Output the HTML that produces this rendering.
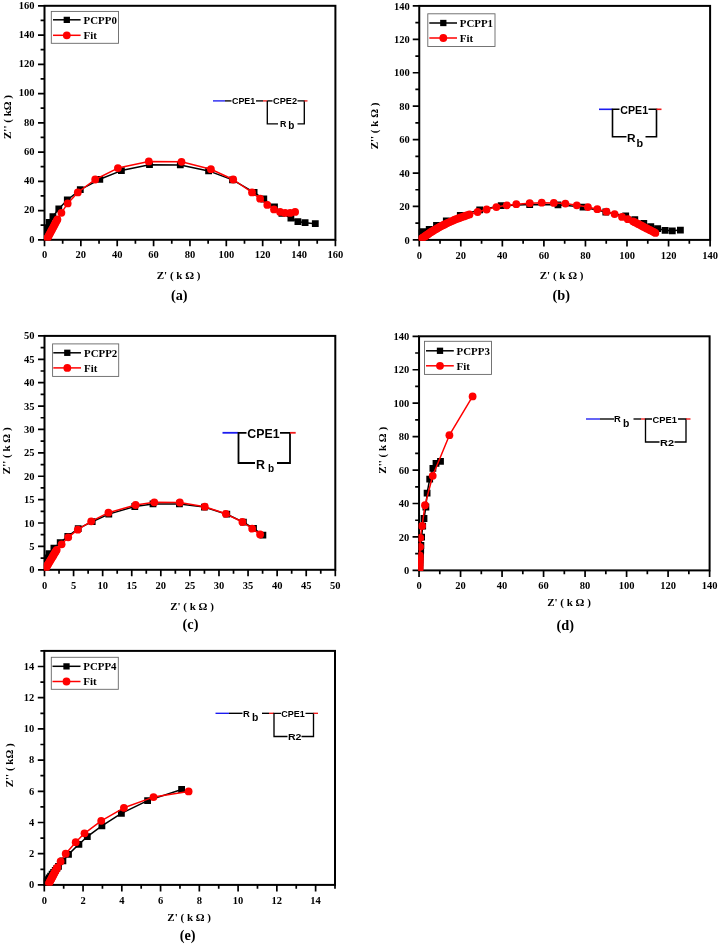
<!DOCTYPE html>
<html lang="en"><head><meta charset="utf-8"><title>Nyquist plots</title>
<style>html,body{margin:0;padding:0;background:#fff}svg{display:block}</style></head>
<body>
<svg width="719" height="945" viewBox="0 0 719 945">
<style>text{font-family:"Liberation Serif", "DejaVu Serif", serif;font-weight:bold;fill:#000}.t{font-size:10.5px}.l{font-size:10.9px}.a{font-size:11px}.c{font-size:14.3px}.s{font-family:"Liberation Sans", "DejaVu Sans", sans-serif}</style>
<rect width="719" height="945" fill="#fff"/>
<g>
<text x="44.5" y="258.4" text-anchor="middle" class="t">0</text>
<text x="80.86" y="258.4" text-anchor="middle" class="t">20</text>
<text x="117.22" y="258.4" text-anchor="middle" class="t">40</text>
<text x="153.59" y="258.4" text-anchor="middle" class="t">60</text>
<text x="189.95" y="258.4" text-anchor="middle" class="t">80</text>
<text x="226.31" y="258.4" text-anchor="middle" class="t">100</text>
<text x="262.67" y="258.4" text-anchor="middle" class="t">120</text>
<text x="299.04" y="258.4" text-anchor="middle" class="t">140</text>
<text x="335.4" y="258.4" text-anchor="middle" class="t">160</text>
<text x="34.5" y="242.5" text-anchor="end" class="t">0</text>
<text x="34.5" y="213.25" text-anchor="end" class="t">20</text>
<text x="34.5" y="184" text-anchor="end" class="t">40</text>
<text x="34.5" y="154.75" text-anchor="end" class="t">60</text>
<text x="34.5" y="125.5" text-anchor="end" class="t">80</text>
<text x="34.5" y="96.25" text-anchor="end" class="t">100</text>
<text x="34.5" y="67" text-anchor="end" class="t">120</text>
<text x="34.5" y="37.75" text-anchor="end" class="t">140</text>
<text x="34.5" y="8.5" text-anchor="end" class="t">160</text>
<path d="M44.5 239.8v6.5M62.68 239.8v3.9M80.86 239.8v6.5M99.04 239.8v3.9M117.22 239.8v6.5M135.41 239.8v3.9M153.59 239.8v6.5M171.77 239.8v3.9M189.95 239.8v6.5M208.13 239.8v3.9M226.31 239.8v6.5M244.49 239.8v3.9M262.67 239.8v6.5M280.86 239.8v3.9M299.04 239.8v6.5M317.22 239.8v3.9M335.4 239.8v6.5M44.5 239.8h-6.5M44.5 225.18h-3.9M44.5 210.55h-6.5M44.5 195.93h-3.9M44.5 181.3h-6.5M44.5 166.68h-3.9M44.5 152.05h-6.5M44.5 137.43h-3.9M44.5 122.8h-6.5M44.5 108.18h-3.9M44.5 93.55h-6.5M44.5 78.93h-3.9M44.5 64.3h-6.5M44.5 49.68h-3.9M44.5 35.05h-6.5M44.5 20.43h-3.9M44.5 5.8h-6.5" stroke="#000" stroke-width="1.7" fill="none"/>
<rect x="44.5" y="5.8" width="290.9" height="234" fill="none" stroke="#000" stroke-width="2"/>
<clipPath id="ca"><rect x="43.9" y="5.2" width="292.1" height="235.2"/></clipPath><g clip-path="url(#ca)">
<polyline fill="none" stroke="#000" stroke-width="1.5" stroke-linejoin="round" points="44.8,231.5 45.3,229.5 46.5,227.7 49.2,222.5 52.9,216.6 58.8,208.8 67.3,200 80.3,189.6 99.8,179.3 121.4,170.6 149.5,164.7 180.3,164.9 208.6,170.9 232.5,179.9 254.1,192.4 263.8,199 274.5,207 281.9,213.3 290.9,218.2 297.9,221.6 305.1,222.7 315.3,223.7"/>
<path fill="#000" d="M41.4 228.1h6.8v6.8h-6.8zM41.9 226.1h6.8v6.8h-6.8zM43.1 224.3h6.8v6.8h-6.8zM45.8 219.1h6.8v6.8h-6.8zM49.5 213.2h6.8v6.8h-6.8zM55.4 205.4h6.8v6.8h-6.8zM63.9 196.6h6.8v6.8h-6.8zM76.9 186.2h6.8v6.8h-6.8zM96.4 175.9h6.8v6.8h-6.8zM118 167.2h6.8v6.8h-6.8zM146.1 161.3h6.8v6.8h-6.8zM176.9 161.5h6.8v6.8h-6.8zM205.2 167.5h6.8v6.8h-6.8zM229.1 176.5h6.8v6.8h-6.8zM250.7 189h6.8v6.8h-6.8zM260.4 195.6h6.8v6.8h-6.8zM271.1 203.6h6.8v6.8h-6.8zM278.5 209.9h6.8v6.8h-6.8zM287.5 214.8h6.8v6.8h-6.8zM294.5 218.2h6.8v6.8h-6.8zM301.7 219.3h6.8v6.8h-6.8zM311.9 220.3h6.8v6.8h-6.8z"/>
<polyline fill="none" stroke="#f00" stroke-width="1.5" stroke-linejoin="round" points="47.4,238.2 48.05,236.98 48.79,235.58 49.58,234.11 50.39,232.59 51.22,231.02 52.07,229.43 52.93,227.81 53.8,226.16 54.69,224.5 55.58,222.82 56.49,221.12 57.4,219.4 61.4,212.8 67.7,203.4 77.8,192.4 95.2,179.5 117.9,168.1 148.8,161.4 181.5,161.8 210.9,169.2 233.2,179.5 252,192.4 260.1,198.7 267.3,204.9 274,209.4 280.1,211.9 285.1,212.9 290.2,212.9 295.1,211.9"/>
<circle cx="47.4" cy="238.2" r="3.9" fill="#f00"/>
<circle cx="48.05" cy="236.98" r="3.9" fill="#f00"/>
<circle cx="48.79" cy="235.58" r="3.9" fill="#f00"/>
<circle cx="49.58" cy="234.11" r="3.9" fill="#f00"/>
<circle cx="50.39" cy="232.59" r="3.9" fill="#f00"/>
<circle cx="51.22" cy="231.02" r="3.9" fill="#f00"/>
<circle cx="52.07" cy="229.43" r="3.9" fill="#f00"/>
<circle cx="52.93" cy="227.81" r="3.9" fill="#f00"/>
<circle cx="53.8" cy="226.16" r="3.9" fill="#f00"/>
<circle cx="54.69" cy="224.5" r="3.9" fill="#f00"/>
<circle cx="55.58" cy="222.82" r="3.9" fill="#f00"/>
<circle cx="56.49" cy="221.12" r="3.9" fill="#f00"/>
<circle cx="57.4" cy="219.4" r="3.9" fill="#f00"/>
<circle cx="61.4" cy="212.8" r="3.9" fill="#f00"/>
<circle cx="67.7" cy="203.4" r="3.9" fill="#f00"/>
<circle cx="77.8" cy="192.4" r="3.9" fill="#f00"/>
<circle cx="95.2" cy="179.5" r="3.9" fill="#f00"/>
<circle cx="117.9" cy="168.1" r="3.9" fill="#f00"/>
<circle cx="148.8" cy="161.4" r="3.9" fill="#f00"/>
<circle cx="181.5" cy="161.8" r="3.9" fill="#f00"/>
<circle cx="210.9" cy="169.2" r="3.9" fill="#f00"/>
<circle cx="233.2" cy="179.5" r="3.9" fill="#f00"/>
<circle cx="252" cy="192.4" r="3.9" fill="#f00"/>
<circle cx="260.1" cy="198.7" r="3.9" fill="#f00"/>
<circle cx="267.3" cy="204.9" r="3.9" fill="#f00"/>
<circle cx="274" cy="209.4" r="3.9" fill="#f00"/>
<circle cx="280.1" cy="211.9" r="3.9" fill="#f00"/>
<circle cx="285.1" cy="212.9" r="3.9" fill="#f00"/>
<circle cx="290.2" cy="212.9" r="3.9" fill="#f00"/>
<circle cx="295.1" cy="211.9" r="3.9" fill="#f00"/>
</g>
<rect x="51.3" y="11.4" width="67.2" height="31.9" fill="#fff" stroke="#666" stroke-width="0.9"/>
<path d="M53 19.8H80.6" stroke="#000" stroke-width="1.5"/>
<path fill="#000" d="M63.65 16.65h6.3v6.3h-6.3z"/>
<path d="M53 35.3H80.6" stroke="#f00" stroke-width="1.5"/>
<circle cx="66.8" cy="35.3" r="3.9" fill="#f00"/>
<text x="83.6" y="23.6" class="l">PCPP0</text>
<text x="83.6" y="39.1" class="l">Fit</text>
<text x="178.6" y="279.4" text-anchor="middle" class="a" xml:space="preserve">Z' ( k Ω )</text>
<text transform="translate(10.8 117) rotate(-90)" text-anchor="middle" class="a" xml:space="preserve">Z'' ( kΩ )</text>
<text x="179.3" y="299.8" text-anchor="middle" class="c">(a)</text>
</g>
<g>
<text x="419.25" y="258.8" text-anchor="middle" class="t">0</text>
<text x="460.8" y="258.8" text-anchor="middle" class="t">20</text>
<text x="502.35" y="258.8" text-anchor="middle" class="t">40</text>
<text x="543.9" y="258.8" text-anchor="middle" class="t">60</text>
<text x="585.45" y="258.8" text-anchor="middle" class="t">80</text>
<text x="627" y="258.8" text-anchor="middle" class="t">100</text>
<text x="668.55" y="258.8" text-anchor="middle" class="t">120</text>
<text x="710.1" y="258.8" text-anchor="middle" class="t">140</text>
<text x="409.75" y="243.6" text-anchor="end" class="t">0</text>
<text x="409.75" y="210.17" text-anchor="end" class="t">20</text>
<text x="409.75" y="176.74" text-anchor="end" class="t">40</text>
<text x="409.75" y="143.31" text-anchor="end" class="t">60</text>
<text x="409.75" y="109.89" text-anchor="end" class="t">80</text>
<text x="409.75" y="76.46" text-anchor="end" class="t">100</text>
<text x="409.75" y="43.03" text-anchor="end" class="t">120</text>
<text x="409.75" y="9.6" text-anchor="end" class="t">140</text>
<path d="M419.25 239.9v6.5M440.02 239.9v3.9M460.8 239.9v6.5M481.57 239.9v3.9M502.35 239.9v6.5M523.12 239.9v3.9M543.9 239.9v6.5M564.67 239.9v3.9M585.45 239.9v6.5M606.23 239.9v3.9M627 239.9v6.5M647.77 239.9v3.9M668.55 239.9v6.5M689.33 239.9v3.9M710.1 239.9v6.5M419.25 239.9h-6.5M419.25 223.19h-3.9M419.25 206.47h-6.5M419.25 189.76h-3.9M419.25 173.04h-6.5M419.25 156.33h-3.9M419.25 139.61h-6.5M419.25 122.9h-3.9M419.25 106.19h-6.5M419.25 89.47h-3.9M419.25 72.76h-6.5M419.25 56.04h-3.9M419.25 39.33h-6.5M419.25 22.61h-3.9M419.25 5.9h-6.5" stroke="#000" stroke-width="1.7" fill="none"/>
<rect x="419.25" y="5.9" width="290.85" height="234" fill="none" stroke="#000" stroke-width="2"/>
<clipPath id="cb"><rect x="418.65" y="5.3" width="292.05" height="235.2"/></clipPath><g clip-path="url(#cb)">
<polyline fill="none" stroke="#000" stroke-width="1.5" stroke-linejoin="round" points="419.6,234 420.6,233 423.3,231.7 429.2,229.3 436.5,225.5 446.3,220.8 460.3,215.3 479.7,209.9 501.2,205.7 529.7,204.6 558,204.8 583,207.1 605.8,212 625.7,215.9 634.8,219.6 643.8,223.4 650.8,226.6 657.7,228.7 665.1,230.3 672.3,230.8 680.4,230.1"/>
<path fill="#000" d="M416.2 230.6h6.8v6.8h-6.8zM417.2 229.6h6.8v6.8h-6.8zM419.9 228.3h6.8v6.8h-6.8zM425.8 225.9h6.8v6.8h-6.8zM433.1 222.1h6.8v6.8h-6.8zM442.9 217.4h6.8v6.8h-6.8zM456.9 211.9h6.8v6.8h-6.8zM476.3 206.5h6.8v6.8h-6.8zM497.8 202.3h6.8v6.8h-6.8zM526.3 201.2h6.8v6.8h-6.8zM554.6 201.4h6.8v6.8h-6.8zM579.6 203.7h6.8v6.8h-6.8zM602.4 208.6h6.8v6.8h-6.8zM622.3 212.5h6.8v6.8h-6.8zM631.4 216.2h6.8v6.8h-6.8zM640.4 220h6.8v6.8h-6.8zM647.4 223.2h6.8v6.8h-6.8zM654.3 225.3h6.8v6.8h-6.8zM661.7 226.9h6.8v6.8h-6.8zM668.9 227.4h6.8v6.8h-6.8zM677 226.7h6.8v6.8h-6.8z"/>
<polyline fill="none" stroke="#f00" stroke-width="1.5" stroke-linejoin="round" points="421.6,238.6 422.16,238.21 422.93,237.67 423.8,237.05 424.76,236.38 425.77,235.67 426.84,234.92 427.95,234.14 429.11,233.33 430.3,232.49 431.55,231.67 432.87,230.9 434.23,230.1 435.61,229.29 437.02,228.46 438.45,227.61 439.91,226.76 441.44,225.98 443,225.2 444.58,224.41 446.18,223.61 447.8,222.8 449.48,222.05 451.18,221.29 452.89,220.53 454.63,219.77 456.41,219.08 458.23,218.41 460.06,217.73 461.9,217.05 463.78,216.39 465.67,215.73 467.58,215.07 469.5,214.4 477.6,212 486.6,209.5 496.4,207.1 506.8,205.3 516.3,204.2 529.7,203.2 541.7,202.7 553.8,202.9 565.4,203.6 576.8,205.3 587.9,207.1 597.3,209.2 606.5,211.7 614.6,214.1 622,216.9 627.8,219.2 633,221.3 634.72,222.19 636.45,223.08 638.17,223.98 639.89,224.87 641.62,225.76 643.34,226.65 645.06,227.55 646.78,228.44 648.51,229.33 650.23,230.22 651.95,231.12 653.68,232.01 655.4,232.9"/>
<circle cx="421.6" cy="238.6" r="3.9" fill="#f00"/>
<circle cx="422.16" cy="238.21" r="3.9" fill="#f00"/>
<circle cx="422.93" cy="237.67" r="3.9" fill="#f00"/>
<circle cx="423.8" cy="237.05" r="3.9" fill="#f00"/>
<circle cx="424.76" cy="236.38" r="3.9" fill="#f00"/>
<circle cx="425.77" cy="235.67" r="3.9" fill="#f00"/>
<circle cx="426.84" cy="234.92" r="3.9" fill="#f00"/>
<circle cx="427.95" cy="234.14" r="3.9" fill="#f00"/>
<circle cx="429.11" cy="233.33" r="3.9" fill="#f00"/>
<circle cx="430.3" cy="232.49" r="3.9" fill="#f00"/>
<circle cx="431.55" cy="231.67" r="3.9" fill="#f00"/>
<circle cx="432.87" cy="230.9" r="3.9" fill="#f00"/>
<circle cx="434.23" cy="230.1" r="3.9" fill="#f00"/>
<circle cx="435.61" cy="229.29" r="3.9" fill="#f00"/>
<circle cx="437.02" cy="228.46" r="3.9" fill="#f00"/>
<circle cx="438.45" cy="227.61" r="3.9" fill="#f00"/>
<circle cx="439.91" cy="226.76" r="3.9" fill="#f00"/>
<circle cx="441.44" cy="225.98" r="3.9" fill="#f00"/>
<circle cx="443" cy="225.2" r="3.9" fill="#f00"/>
<circle cx="444.58" cy="224.41" r="3.9" fill="#f00"/>
<circle cx="446.18" cy="223.61" r="3.9" fill="#f00"/>
<circle cx="447.8" cy="222.8" r="3.9" fill="#f00"/>
<circle cx="449.48" cy="222.05" r="3.9" fill="#f00"/>
<circle cx="451.18" cy="221.29" r="3.9" fill="#f00"/>
<circle cx="452.89" cy="220.53" r="3.9" fill="#f00"/>
<circle cx="454.63" cy="219.77" r="3.9" fill="#f00"/>
<circle cx="456.41" cy="219.08" r="3.9" fill="#f00"/>
<circle cx="458.23" cy="218.41" r="3.9" fill="#f00"/>
<circle cx="460.06" cy="217.73" r="3.9" fill="#f00"/>
<circle cx="461.9" cy="217.05" r="3.9" fill="#f00"/>
<circle cx="463.78" cy="216.39" r="3.9" fill="#f00"/>
<circle cx="465.67" cy="215.73" r="3.9" fill="#f00"/>
<circle cx="467.58" cy="215.07" r="3.9" fill="#f00"/>
<circle cx="469.5" cy="214.4" r="3.9" fill="#f00"/>
<circle cx="477.6" cy="212" r="3.9" fill="#f00"/>
<circle cx="486.6" cy="209.5" r="3.9" fill="#f00"/>
<circle cx="496.4" cy="207.1" r="3.9" fill="#f00"/>
<circle cx="506.8" cy="205.3" r="3.9" fill="#f00"/>
<circle cx="516.3" cy="204.2" r="3.9" fill="#f00"/>
<circle cx="529.7" cy="203.2" r="3.9" fill="#f00"/>
<circle cx="541.7" cy="202.7" r="3.9" fill="#f00"/>
<circle cx="553.8" cy="202.9" r="3.9" fill="#f00"/>
<circle cx="565.4" cy="203.6" r="3.9" fill="#f00"/>
<circle cx="576.8" cy="205.3" r="3.9" fill="#f00"/>
<circle cx="587.9" cy="207.1" r="3.9" fill="#f00"/>
<circle cx="597.3" cy="209.2" r="3.9" fill="#f00"/>
<circle cx="606.5" cy="211.7" r="3.9" fill="#f00"/>
<circle cx="614.6" cy="214.1" r="3.9" fill="#f00"/>
<circle cx="622" cy="216.9" r="3.9" fill="#f00"/>
<circle cx="627.8" cy="219.2" r="3.9" fill="#f00"/>
<circle cx="633" cy="221.3" r="3.9" fill="#f00"/>
<circle cx="634.72" cy="222.19" r="3.9" fill="#f00"/>
<circle cx="636.45" cy="223.08" r="3.9" fill="#f00"/>
<circle cx="638.17" cy="223.98" r="3.9" fill="#f00"/>
<circle cx="639.89" cy="224.87" r="3.9" fill="#f00"/>
<circle cx="641.62" cy="225.76" r="3.9" fill="#f00"/>
<circle cx="643.34" cy="226.65" r="3.9" fill="#f00"/>
<circle cx="645.06" cy="227.55" r="3.9" fill="#f00"/>
<circle cx="646.78" cy="228.44" r="3.9" fill="#f00"/>
<circle cx="648.51" cy="229.33" r="3.9" fill="#f00"/>
<circle cx="650.23" cy="230.22" r="3.9" fill="#f00"/>
<circle cx="651.95" cy="231.12" r="3.9" fill="#f00"/>
<circle cx="653.68" cy="232.01" r="3.9" fill="#f00"/>
<circle cx="655.4" cy="232.9" r="3.9" fill="#f00"/>
</g>
<rect x="427.8" y="13.8" width="67.2" height="32.7" fill="#fff" stroke="#666" stroke-width="0.9"/>
<path d="M429.3 23H457" stroke="#000" stroke-width="1.5"/>
<path fill="#000" d="M440.15 19.85h6.3v6.3h-6.3z"/>
<path d="M429.3 38H457" stroke="#f00" stroke-width="1.5"/>
<circle cx="443.3" cy="38" r="3.9" fill="#f00"/>
<text x="459.8" y="26.8" class="l">PCPP1</text>
<text x="459.8" y="41.8" class="l">Fit</text>
<text x="561.6" y="278.6" text-anchor="middle" class="a" xml:space="preserve">Z' ( k Ω )</text>
<text transform="translate(378 126) rotate(-90)" text-anchor="middle" class="a" xml:space="preserve">Z'' ( k Ω )</text>
<text x="561.2" y="299.9" text-anchor="middle" class="c">(b)</text>
</g>
<g>
<text x="44.5" y="588.8" text-anchor="middle" class="t">0</text>
<text x="73.58" y="588.8" text-anchor="middle" class="t">5</text>
<text x="102.66" y="588.8" text-anchor="middle" class="t">10</text>
<text x="131.74" y="588.8" text-anchor="middle" class="t">15</text>
<text x="160.82" y="588.8" text-anchor="middle" class="t">20</text>
<text x="189.9" y="588.8" text-anchor="middle" class="t">25</text>
<text x="218.98" y="588.8" text-anchor="middle" class="t">30</text>
<text x="248.06" y="588.8" text-anchor="middle" class="t">35</text>
<text x="277.14" y="588.8" text-anchor="middle" class="t">40</text>
<text x="306.22" y="588.8" text-anchor="middle" class="t">45</text>
<text x="335.3" y="588.8" text-anchor="middle" class="t">50</text>
<text x="34.4" y="573.3" text-anchor="end" class="t">0</text>
<text x="34.4" y="549.91" text-anchor="end" class="t">5</text>
<text x="34.4" y="526.52" text-anchor="end" class="t">10</text>
<text x="34.4" y="503.13" text-anchor="end" class="t">15</text>
<text x="34.4" y="479.74" text-anchor="end" class="t">20</text>
<text x="34.4" y="456.35" text-anchor="end" class="t">25</text>
<text x="34.4" y="432.96" text-anchor="end" class="t">30</text>
<text x="34.4" y="409.57" text-anchor="end" class="t">35</text>
<text x="34.4" y="386.18" text-anchor="end" class="t">40</text>
<text x="34.4" y="362.79" text-anchor="end" class="t">45</text>
<text x="34.4" y="339.4" text-anchor="end" class="t">50</text>
<path d="M44.5 569.8v6.5M59.04 569.8v3.9M73.58 569.8v6.5M88.12 569.8v3.9M102.66 569.8v6.5M117.2 569.8v3.9M131.74 569.8v6.5M146.28 569.8v3.9M160.82 569.8v6.5M175.36 569.8v3.9M189.9 569.8v6.5M204.44 569.8v3.9M218.98 569.8v6.5M233.52 569.8v3.9M248.06 569.8v6.5M262.6 569.8v3.9M277.14 569.8v6.5M291.68 569.8v3.9M306.22 569.8v6.5M320.76 569.8v3.9M335.3 569.8v6.5M44.5 569.8h-6.5M44.5 558.1h-3.9M44.5 546.41h-6.5M44.5 534.71h-3.9M44.5 523.02h-6.5M44.5 511.32h-3.9M44.5 499.63h-6.5M44.5 487.93h-3.9M44.5 476.24h-6.5M44.5 464.54h-3.9M44.5 452.85h-6.5M44.5 441.15h-3.9M44.5 429.46h-6.5M44.5 417.76h-3.9M44.5 406.07h-6.5M44.5 394.37h-3.9M44.5 382.68h-6.5M44.5 370.98h-3.9M44.5 359.29h-6.5M44.5 347.59h-3.9M44.5 335.9h-6.5" stroke="#000" stroke-width="1.7" fill="none"/>
<rect x="44.5" y="335.9" width="290.8" height="233.9" fill="none" stroke="#000" stroke-width="2"/>
<clipPath id="cc"><rect x="43.9" y="335.3" width="292" height="235.1"/></clipPath><g clip-path="url(#cc)">
<polyline fill="none" stroke="#000" stroke-width="1.5" stroke-linejoin="round" points="44.8,562 45.3,560 46.3,557.9 49,553.7 53.9,548.2 60.2,542.6 67.8,536.3 78.2,528.7 92.2,521.7 108.8,514.1 134.8,506.5 153,503.9 179.4,503.9 204.4,507.1 226.8,514.2 243.4,522.1 253.5,528.4 262.9,535.2"/>
<path fill="#000" d="M41.4 558.6h6.8v6.8h-6.8zM41.9 556.6h6.8v6.8h-6.8zM42.9 554.5h6.8v6.8h-6.8zM45.6 550.3h6.8v6.8h-6.8zM50.5 544.8h6.8v6.8h-6.8zM56.8 539.2h6.8v6.8h-6.8zM64.4 532.9h6.8v6.8h-6.8zM74.8 525.3h6.8v6.8h-6.8zM88.8 518.3h6.8v6.8h-6.8zM105.4 510.7h6.8v6.8h-6.8zM131.4 503.1h6.8v6.8h-6.8zM149.6 500.5h6.8v6.8h-6.8zM176 500.5h6.8v6.8h-6.8zM201 503.7h6.8v6.8h-6.8zM223.4 510.8h6.8v6.8h-6.8zM240 518.7h6.8v6.8h-6.8zM250.1 525h6.8v6.8h-6.8zM259.5 531.8h6.8v6.8h-6.8z"/>
<polyline fill="none" stroke="#f00" stroke-width="1.5" stroke-linejoin="round" points="45.6,568.4 46.16,567.45 46.81,566.37 47.49,565.23 48.19,564.05 48.92,562.85 49.65,561.61 50.4,560.36 51.16,559.08 51.93,557.8 52.71,556.49 53.49,555.18 54.28,553.85 55.08,552.51 55.89,551.16 56.7,549.8 61.6,544.3 68.2,537.3 77.8,529.7 91.2,521.3 108.4,512.7 135.6,505 154.3,502.3 179.8,502.5 204.8,506.7 225.8,513.8 242.4,522 252.2,528.7 260.1,534.5"/>
<circle cx="45.6" cy="568.4" r="3.9" fill="#f00"/>
<circle cx="46.16" cy="567.45" r="3.9" fill="#f00"/>
<circle cx="46.81" cy="566.37" r="3.9" fill="#f00"/>
<circle cx="47.49" cy="565.23" r="3.9" fill="#f00"/>
<circle cx="48.19" cy="564.05" r="3.9" fill="#f00"/>
<circle cx="48.92" cy="562.85" r="3.9" fill="#f00"/>
<circle cx="49.65" cy="561.61" r="3.9" fill="#f00"/>
<circle cx="50.4" cy="560.36" r="3.9" fill="#f00"/>
<circle cx="51.16" cy="559.08" r="3.9" fill="#f00"/>
<circle cx="51.93" cy="557.8" r="3.9" fill="#f00"/>
<circle cx="52.71" cy="556.49" r="3.9" fill="#f00"/>
<circle cx="53.49" cy="555.18" r="3.9" fill="#f00"/>
<circle cx="54.28" cy="553.85" r="3.9" fill="#f00"/>
<circle cx="55.08" cy="552.51" r="3.9" fill="#f00"/>
<circle cx="55.89" cy="551.16" r="3.9" fill="#f00"/>
<circle cx="56.7" cy="549.8" r="3.9" fill="#f00"/>
<circle cx="61.6" cy="544.3" r="3.9" fill="#f00"/>
<circle cx="68.2" cy="537.3" r="3.9" fill="#f00"/>
<circle cx="77.8" cy="529.7" r="3.9" fill="#f00"/>
<circle cx="91.2" cy="521.3" r="3.9" fill="#f00"/>
<circle cx="108.4" cy="512.7" r="3.9" fill="#f00"/>
<circle cx="135.6" cy="505" r="3.9" fill="#f00"/>
<circle cx="154.3" cy="502.3" r="3.9" fill="#f00"/>
<circle cx="179.8" cy="502.5" r="3.9" fill="#f00"/>
<circle cx="204.8" cy="506.7" r="3.9" fill="#f00"/>
<circle cx="225.8" cy="513.8" r="3.9" fill="#f00"/>
<circle cx="242.4" cy="522" r="3.9" fill="#f00"/>
<circle cx="252.2" cy="528.7" r="3.9" fill="#f00"/>
<circle cx="260.1" cy="534.5" r="3.9" fill="#f00"/>
</g>
<rect x="52.6" y="343.9" width="66.1" height="32.5" fill="#fff" stroke="#666" stroke-width="0.9"/>
<path d="M53.3 352.8H81" stroke="#000" stroke-width="1.5"/>
<path fill="#000" d="M64.15 349.65h6.3v6.3h-6.3z"/>
<path d="M53.3 367.9H81" stroke="#f00" stroke-width="1.5"/>
<circle cx="67.3" cy="367.9" r="3.9" fill="#f00"/>
<text x="84" y="356.6" class="l">PCPP2</text>
<text x="84" y="371.7" class="l">Fit</text>
<text x="192" y="609.5" text-anchor="middle" class="a" xml:space="preserve">Z' ( k Ω )</text>
<text transform="translate(9.5 450.8) rotate(-90)" text-anchor="middle" class="a" xml:space="preserve">Z'' ( k Ω )</text>
<text x="190.5" y="628.9" text-anchor="middle" class="c">(c)</text>
</g>
<g>
<text x="419.05" y="588.7" text-anchor="middle" class="t">0</text>
<text x="460.56" y="588.7" text-anchor="middle" class="t">20</text>
<text x="502.06" y="588.7" text-anchor="middle" class="t">40</text>
<text x="543.57" y="588.7" text-anchor="middle" class="t">60</text>
<text x="585.08" y="588.7" text-anchor="middle" class="t">80</text>
<text x="626.59" y="588.7" text-anchor="middle" class="t">100</text>
<text x="668.09" y="588.7" text-anchor="middle" class="t">120</text>
<text x="709.6" y="588.7" text-anchor="middle" class="t">140</text>
<text x="409.15" y="574" text-anchor="end" class="t">0</text>
<text x="409.15" y="540.56" text-anchor="end" class="t">20</text>
<text x="409.15" y="507.11" text-anchor="end" class="t">40</text>
<text x="409.15" y="473.67" text-anchor="end" class="t">60</text>
<text x="409.15" y="440.23" text-anchor="end" class="t">80</text>
<text x="409.15" y="406.79" text-anchor="end" class="t">100</text>
<text x="409.15" y="373.34" text-anchor="end" class="t">120</text>
<text x="409.15" y="339.9" text-anchor="end" class="t">140</text>
<path d="M419.05 570.4v6.5M439.8 570.4v3.9M460.56 570.4v6.5M481.31 570.4v3.9M502.06 570.4v6.5M522.82 570.4v3.9M543.57 570.4v6.5M564.33 570.4v3.9M585.08 570.4v6.5M605.83 570.4v3.9M626.59 570.4v6.5M647.34 570.4v3.9M668.09 570.4v6.5M688.85 570.4v3.9M709.6 570.4v6.5M419.05 570.4h-6.5M419.05 553.68h-3.9M419.05 536.96h-6.5M419.05 520.24h-3.9M419.05 503.51h-6.5M419.05 486.79h-3.9M419.05 470.07h-6.5M419.05 453.35h-3.9M419.05 436.63h-6.5M419.05 419.91h-3.9M419.05 403.19h-6.5M419.05 386.46h-3.9M419.05 369.74h-6.5M419.05 353.02h-3.9M419.05 336.3h-6.5" stroke="#000" stroke-width="1.7" fill="none"/>
<rect x="419.05" y="336.3" width="290.55" height="234.1" fill="none" stroke="#000" stroke-width="2"/>
<clipPath id="cd"><rect x="418.45" y="335.7" width="291.75" height="235.3"/></clipPath><g clip-path="url(#cd)">
<polyline fill="none" stroke="#000" stroke-width="1.5" stroke-linejoin="round" points="419.8,568.5 419.94,565.6 420.08,562.7 420.22,559.8 420.36,556.9 420.5,554 420.7,550 420.9,545.5 421.6,537.1 422.7,526.1 424,518.5 425.9,507 427.1,493.1 429.7,479.1 432.9,468.3 436,463.3 440.5,461.3"/>
<path fill="#000" d="M416.4 565.1h6.8v6.8h-6.8zM416.54 562.2h6.8v6.8h-6.8zM416.68 559.3h6.8v6.8h-6.8zM416.82 556.4h6.8v6.8h-6.8zM416.96 553.5h6.8v6.8h-6.8zM417.1 550.6h6.8v6.8h-6.8zM417.3 546.6h6.8v6.8h-6.8zM417.5 542.1h6.8v6.8h-6.8zM418.2 533.7h6.8v6.8h-6.8zM419.3 522.7h6.8v6.8h-6.8zM420.6 515.1h6.8v6.8h-6.8zM422.5 503.6h6.8v6.8h-6.8zM423.7 489.7h6.8v6.8h-6.8zM426.3 475.7h6.8v6.8h-6.8zM429.5 464.9h6.8v6.8h-6.8zM432.6 459.9h6.8v6.8h-6.8zM437.1 457.9h6.8v6.8h-6.8z"/>
<polyline fill="none" stroke="#f00" stroke-width="1.5" stroke-linejoin="round" points="419.5,569.6 419.52,568.03 419.54,566.47 419.57,564.9 419.59,563.33 419.61,561.77 419.63,560.2 419.66,558.63 419.68,557.07 419.7,555.5 420.1,546.8 420.3,537.8 422.1,525.9 425,505.2 432.7,475.8 449.4,435.2 472.6,396.4"/>
<circle cx="419.5" cy="569.6" r="3.9" fill="#f00"/>
<circle cx="419.52" cy="568.03" r="3.9" fill="#f00"/>
<circle cx="419.54" cy="566.47" r="3.9" fill="#f00"/>
<circle cx="419.57" cy="564.9" r="3.9" fill="#f00"/>
<circle cx="419.59" cy="563.33" r="3.9" fill="#f00"/>
<circle cx="419.61" cy="561.77" r="3.9" fill="#f00"/>
<circle cx="419.63" cy="560.2" r="3.9" fill="#f00"/>
<circle cx="419.66" cy="558.63" r="3.9" fill="#f00"/>
<circle cx="419.68" cy="557.07" r="3.9" fill="#f00"/>
<circle cx="419.7" cy="555.5" r="3.9" fill="#f00"/>
<circle cx="420.1" cy="546.8" r="3.9" fill="#f00"/>
<circle cx="420.3" cy="537.8" r="3.9" fill="#f00"/>
<circle cx="422.1" cy="525.9" r="3.9" fill="#f00"/>
<circle cx="425" cy="505.2" r="3.9" fill="#f00"/>
<circle cx="432.7" cy="475.8" r="3.9" fill="#f00"/>
<circle cx="449.4" cy="435.2" r="3.9" fill="#f00"/>
<circle cx="472.6" cy="396.4" r="3.9" fill="#f00"/>
</g>
<rect x="424.5" y="341.3" width="67" height="33.1" fill="#fff" stroke="#666" stroke-width="0.9"/>
<path d="M426 350.8H453.8" stroke="#000" stroke-width="1.5"/>
<path fill="#000" d="M436.85 347.65h6.3v6.3h-6.3z"/>
<path d="M426 365.8H453.8" stroke="#f00" stroke-width="1.5"/>
<circle cx="440" cy="365.8" r="3.9" fill="#f00"/>
<text x="456.6" y="354.6" class="l">PCPP3</text>
<text x="456.6" y="369.6" class="l">Fit</text>
<text x="569" y="605.5" text-anchor="middle" class="a" xml:space="preserve">Z' ( k Ω )</text>
<text transform="translate(386.2 450.3) rotate(-90)" text-anchor="middle" class="a" xml:space="preserve">Z'' ( k Ω )</text>
<text x="565.3" y="629.6" text-anchor="middle" class="c">(d)</text>
</g>
<g>
<text x="44.3" y="903.8" text-anchor="middle" class="t">0</text>
<text x="83.06" y="903.8" text-anchor="middle" class="t">2</text>
<text x="121.82" y="903.8" text-anchor="middle" class="t">4</text>
<text x="160.58" y="903.8" text-anchor="middle" class="t">6</text>
<text x="199.34" y="903.8" text-anchor="middle" class="t">8</text>
<text x="238.1" y="903.8" text-anchor="middle" class="t">10</text>
<text x="276.86" y="903.8" text-anchor="middle" class="t">12</text>
<text x="315.62" y="903.8" text-anchor="middle" class="t">14</text>
<text x="34.3" y="888.2" text-anchor="end" class="t">0</text>
<text x="34.3" y="857" text-anchor="end" class="t">2</text>
<text x="34.3" y="825.8" text-anchor="end" class="t">4</text>
<text x="34.3" y="794.6" text-anchor="end" class="t">6</text>
<text x="34.3" y="763.4" text-anchor="end" class="t">8</text>
<text x="34.3" y="732.2" text-anchor="end" class="t">10</text>
<text x="34.3" y="701" text-anchor="end" class="t">12</text>
<text x="34.3" y="669.8" text-anchor="end" class="t">14</text>
<path d="M44.3 884.9v6.5M63.68 884.9v3.9M83.06 884.9v6.5M102.44 884.9v3.9M121.82 884.9v6.5M141.2 884.9v3.9M160.58 884.9v6.5M179.96 884.9v3.9M199.34 884.9v6.5M218.72 884.9v3.9M238.1 884.9v6.5M257.48 884.9v3.9M276.86 884.9v6.5M296.24 884.9v3.9M315.62 884.9v6.5M335 884.9v3.9M44.3 884.9h-6.5M44.3 869.3h-3.9M44.3 853.7h-6.5M44.3 838.1h-3.9M44.3 822.5h-6.5M44.3 806.9h-3.9M44.3 791.3h-6.5M44.3 775.7h-3.9M44.3 760.1h-6.5M44.3 744.5h-3.9M44.3 728.9h-6.5M44.3 713.3h-3.9M44.3 697.7h-6.5M44.3 682.1h-3.9M44.3 666.5h-6.5M44.3 650.9h-3.9" stroke="#000" stroke-width="1.7" fill="none"/>
<rect x="44.3" y="650.9" width="290.7" height="234" fill="none" stroke="#000" stroke-width="2"/>
<clipPath id="ce"><rect x="43.7" y="650.3" width="291.9" height="235.2"/></clipPath><g clip-path="url(#ce)">
<polyline fill="none" stroke="#000" stroke-width="1.5" stroke-linejoin="round" points="45.5,882.5 46.54,881.21 47.81,879.63 49.17,877.92 50.62,876.12 52.11,874.26 53.66,872.34 55.24,870.37 56.85,868.35 58.5,866.3 62.9,860.9 68.5,854.4 78.9,844.3 87.3,836.7 101.9,825.9 121.4,813.4 147.6,800.6 181.6,789.5"/>
<path fill="#000" d="M42.1 879.1h6.8v6.8h-6.8zM43.14 877.81h6.8v6.8h-6.8zM44.41 876.23h6.8v6.8h-6.8zM45.77 874.52h6.8v6.8h-6.8zM47.22 872.72h6.8v6.8h-6.8zM48.71 870.86h6.8v6.8h-6.8zM50.26 868.94h6.8v6.8h-6.8zM51.84 866.97h6.8v6.8h-6.8zM53.45 864.95h6.8v6.8h-6.8zM55.1 862.9h6.8v6.8h-6.8zM59.5 857.5h6.8v6.8h-6.8zM65.1 851h6.8v6.8h-6.8zM75.5 840.9h6.8v6.8h-6.8zM83.9 833.3h6.8v6.8h-6.8zM98.5 822.5h6.8v6.8h-6.8zM118 810h6.8v6.8h-6.8zM144.2 797.2h6.8v6.8h-6.8zM178.2 786.1h6.8v6.8h-6.8z"/>
<polyline fill="none" stroke="#f00" stroke-width="1.5" stroke-linejoin="round" points="49,883.3 49.5,882.35 50.07,881.26 50.67,880.11 51.3,878.92 51.94,877.71 52.59,876.46 53.25,875.2 53.92,873.92 54.61,872.62 55.29,871.31 55.99,869.99 56.69,868.65 57.4,867.3 60.6,861.4 65.7,853.7 75.7,842.2 84.5,833.3 101.2,820.8 123.9,807.8 153.5,797.1 188.6,791.4"/>
<circle cx="49" cy="883.3" r="3.9" fill="#f00"/>
<circle cx="49.5" cy="882.35" r="3.9" fill="#f00"/>
<circle cx="50.07" cy="881.26" r="3.9" fill="#f00"/>
<circle cx="50.67" cy="880.11" r="3.9" fill="#f00"/>
<circle cx="51.3" cy="878.92" r="3.9" fill="#f00"/>
<circle cx="51.94" cy="877.71" r="3.9" fill="#f00"/>
<circle cx="52.59" cy="876.46" r="3.9" fill="#f00"/>
<circle cx="53.25" cy="875.2" r="3.9" fill="#f00"/>
<circle cx="53.92" cy="873.92" r="3.9" fill="#f00"/>
<circle cx="54.61" cy="872.62" r="3.9" fill="#f00"/>
<circle cx="55.29" cy="871.31" r="3.9" fill="#f00"/>
<circle cx="55.99" cy="869.99" r="3.9" fill="#f00"/>
<circle cx="56.69" cy="868.65" r="3.9" fill="#f00"/>
<circle cx="57.4" cy="867.3" r="3.9" fill="#f00"/>
<circle cx="60.6" cy="861.4" r="3.9" fill="#f00"/>
<circle cx="65.7" cy="853.7" r="3.9" fill="#f00"/>
<circle cx="75.7" cy="842.2" r="3.9" fill="#f00"/>
<circle cx="84.5" cy="833.3" r="3.9" fill="#f00"/>
<circle cx="101.2" cy="820.8" r="3.9" fill="#f00"/>
<circle cx="123.9" cy="807.8" r="3.9" fill="#f00"/>
<circle cx="153.5" cy="797.1" r="3.9" fill="#f00"/>
<circle cx="188.6" cy="791.4" r="3.9" fill="#f00"/>
</g>
<rect x="51.3" y="657.3" width="67" height="32" fill="#fff" stroke="#666" stroke-width="0.9"/>
<path d="M52.5 666.3H80.5" stroke="#000" stroke-width="1.5"/>
<path fill="#000" d="M63.35 663.15h6.3v6.3h-6.3z"/>
<path d="M52.5 681.5H80.5" stroke="#f00" stroke-width="1.5"/>
<circle cx="66.5" cy="681.5" r="3.9" fill="#f00"/>
<text x="83.3" y="670.1" class="l">PCPP4</text>
<text x="83.3" y="685.3" class="l">Fit</text>
<text x="189.2" y="920.7" text-anchor="middle" class="a" xml:space="preserve">Z' ( k Ω )</text>
<text transform="translate(13.4 765.3) rotate(-90)" text-anchor="middle" class="a" xml:space="preserve">Z'' ( kΩ )</text>
<text x="187.7" y="940" text-anchor="middle" class="c">(e)</text>
</g>
<path d="M213 100.9H225" stroke="#1c1cf0" stroke-width="1.35" fill="none"/>
<path d="M225 100.9H231.5" stroke="#000" stroke-width="1.35" fill="none"/>
<text x="232" y="104.3" class="s" style="font-size:9.3px;font-weight:bold" text-anchor="start" textLength="23.2" lengthAdjust="spacingAndGlyphs">CPE1</text>
<path d="M256 100.9H263" stroke="#000" stroke-width="1.35" fill="none"/>
<path d="M263 100.9H267.5" stroke="#f01c1c" stroke-width="1.35" fill="none"/>
<path d="M267.3 100.9V123.8H278" stroke="#000" stroke-width="1.35" fill="none"/>
<path d="M267.3 100.9H272.5" stroke="#000" stroke-width="1.35" fill="none"/>
<text x="273" y="104.3" class="s" style="font-size:9.3px;font-weight:bold" text-anchor="start" textLength="24" lengthAdjust="spacingAndGlyphs">CPE2</text>
<path d="M297.5 100.9H304.3V123.8H297.5" stroke="#000" stroke-width="1.35" fill="none"/>
<path d="M304.3 100.9H307.5" stroke="#f01c1c" stroke-width="1.35" fill="none"/>
<text x="280" y="127.2" class="s" style="font-size:9.3px;font-weight:bold" text-anchor="start" textLength="6.4" lengthAdjust="spacingAndGlyphs">R</text>
<text x="288.3" y="128.6" class="s" style="font-size:10px;font-weight:bold" text-anchor="start">b</text>
<path d="M599 109.3H612.5" stroke="#1c1cf0" stroke-width="1.6" fill="none"/>
<path d="M619.5 109.3H612.5V136.8H626.5" stroke="#000" stroke-width="1.6" fill="none"/>
<text x="620.3" y="113.6" class="s" style="font-size:11px;font-weight:bold" text-anchor="start" textLength="27.8" lengthAdjust="spacingAndGlyphs">CPE1</text>
<path d="M648.5 109.3H656.5V136.8H645.5" stroke="#000" stroke-width="1.6" fill="none"/>
<path d="M656.5 109.3H661.5" stroke="#f01c1c" stroke-width="1.6" fill="none"/>
<text x="627" y="141.8" class="s" style="font-size:11.5px;font-weight:bold" text-anchor="start" textLength="8.6" lengthAdjust="spacingAndGlyphs">R</text>
<text x="636.4" y="147.4" class="s" style="font-size:10.8px;font-weight:bold" text-anchor="start">b</text>
<path d="M222.5 432.8H238.5" stroke="#1c1cf0" stroke-width="1.8" fill="none"/>
<path d="M246.5 432.8H238.5V463H255" stroke="#000" stroke-width="1.8" fill="none"/>
<text x="247.3" y="437.8" class="s" style="font-size:12.4px;font-weight:bold" text-anchor="start" textLength="32.2" lengthAdjust="spacingAndGlyphs">CPE1</text>
<path d="M280 432.8H290V463H277" stroke="#000" stroke-width="1.8" fill="none"/>
<path d="M290 432.8H295.7" stroke="#f01c1c" stroke-width="1.8" fill="none"/>
<text x="256" y="468.6" class="s" style="font-size:12.4px;font-weight:bold" text-anchor="start" textLength="9" lengthAdjust="spacingAndGlyphs">R</text>
<text x="268" y="472.3" class="s" style="font-size:10px;font-weight:bold" text-anchor="start">b</text>
<path d="M586 419H600" stroke="#1c1cf0" stroke-width="1.35" fill="none"/>
<path d="M600 419H614" stroke="#000" stroke-width="1.35" fill="none"/>
<text x="614" y="422.4" class="s" style="font-size:9.6px;font-weight:bold" text-anchor="start" textLength="6.8" lengthAdjust="spacingAndGlyphs">R</text>
<text x="623" y="426.6" class="s" style="font-size:10.4px;font-weight:bold" text-anchor="start">b</text>
<path d="M633.5 419H641" stroke="#000" stroke-width="1.35" fill="none"/>
<path d="M641 419H645.5" stroke="#f01c1c" stroke-width="1.35" fill="none"/>
<path d="M652 419H645.5V442H659.5" stroke="#000" stroke-width="1.35" fill="none"/>
<text x="652.6" y="422.5" class="s" style="font-size:9.5px;font-weight:bold" text-anchor="start" textLength="24.3" lengthAdjust="spacingAndGlyphs">CPE1</text>
<path d="M678 419H686V442H674.5" stroke="#000" stroke-width="1.35" fill="none"/>
<path d="M686 419H690.5" stroke="#f01c1c" stroke-width="1.35" fill="none"/>
<text x="660" y="445.5" class="s" style="font-size:9.5px;font-weight:bold" text-anchor="start" textLength="14" lengthAdjust="spacingAndGlyphs">R2</text>
<path d="M215.5 713.3H229" stroke="#1c1cf0" stroke-width="1.35" fill="none"/>
<path d="M229 713.3H242.5" stroke="#000" stroke-width="1.35" fill="none"/>
<text x="243" y="716.7" class="s" style="font-size:9.6px;font-weight:bold" text-anchor="start" textLength="6.8" lengthAdjust="spacingAndGlyphs">R</text>
<text x="252" y="720.9" class="s" style="font-size:10.4px;font-weight:bold" text-anchor="start">b</text>
<path d="M262 713.3H269" stroke="#000" stroke-width="1.35" fill="none"/>
<path d="M269 713.3H274" stroke="#f01c1c" stroke-width="1.35" fill="none"/>
<path d="M281 713.3H274V736.5H287.5" stroke="#000" stroke-width="1.35" fill="none"/>
<text x="281.2" y="716.8" class="s" style="font-size:9.5px;font-weight:bold" text-anchor="start" textLength="23.5" lengthAdjust="spacingAndGlyphs">CPE1</text>
<path d="M305.5 713.3H313.5V736.5H301.5" stroke="#000" stroke-width="1.35" fill="none"/>
<path d="M313.5 713.3H318" stroke="#f01c1c" stroke-width="1.35" fill="none"/>
<text x="288" y="740" class="s" style="font-size:9.5px;font-weight:bold" text-anchor="start" textLength="13.5" lengthAdjust="spacingAndGlyphs">R2</text>
</svg>
</body></html>
